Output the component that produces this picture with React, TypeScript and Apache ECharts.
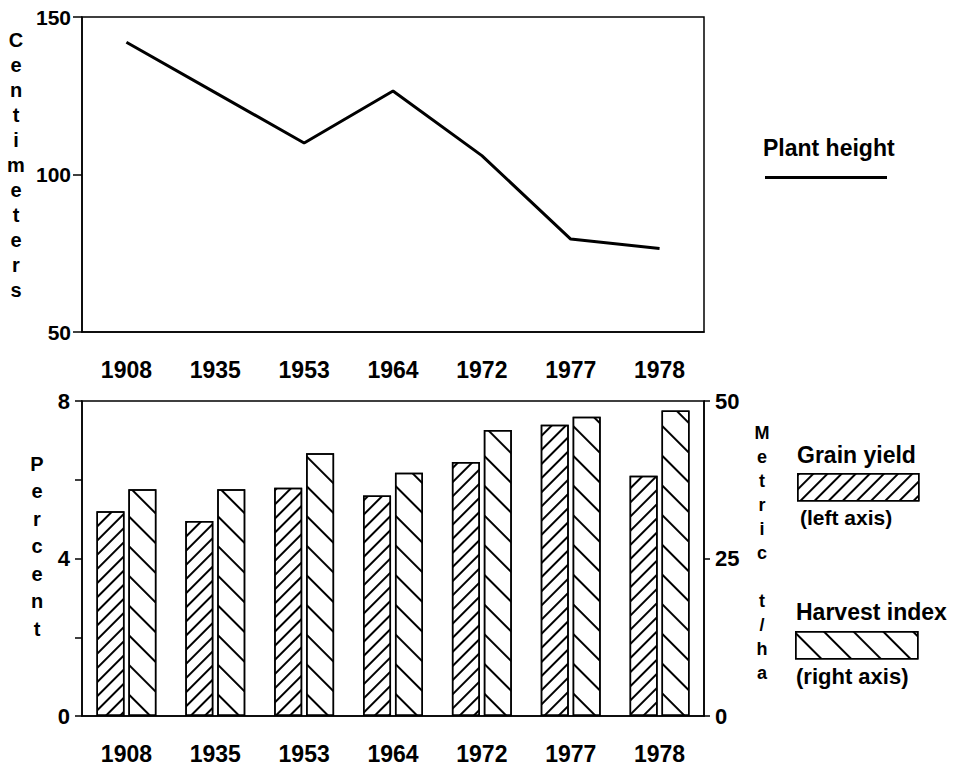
import React, { useEffect, useRef } from "react";
import * as echarts from "echarts";

const years = ["1908", "1935", "1953", "1964", "1972", "1977", "1978"];
const plantHeight = [142, 126, 110, 126.5, 106, 79.5, 76.5];
const grainYield = [5.2, 4.95, 5.8, 5.6, 6.45, 7.4, 6.1];
const harvestIndex = [36, 36, 41.7, 38.6, 45.4, 47.5, 48.5];

const heightAxis = { min: 50, max: 150, interval: 50 };
const percentAxis = { min: 0, max: 8, interval: 2, labelEvery: 4 };
const metricAxis = { min: 0, max: 50, interval: 25 };

const SANS = "'Liberation Sans', Arial, Helvetica, sans-serif";

const gyDecal = {
  symbol: "rect",
  symbolSize: 1,
  color: "#000",
  backgroundColor: "#fff",
  dashArrayX: [1, 0],
  dashArrayY: [1.3, 8],
  rotation: -Math.PI / 4,
};
const hiDecal = {
  symbol: "rect",
  symbolSize: 1,
  color: "#000",
  backgroundColor: "#fff",
  dashArrayX: [1, 0],
  dashArrayY: [1.7, 19],
  rotation: Math.PI / 4,
};

export default function App() {
  const ref = useRef<HTMLDivElement>(null);
  useEffect(() => {
    if (!ref.current) return;
    const chart = echarts.init(ref.current, undefined, { renderer: "svg" });
    const black = "#000";
    const axisLine = { show: true, lineStyle: { color: black, width: 1.5 } };
    const yearLabel = {
      color: black,
      fontFamily: SANS,
      fontWeight: "bold" as const,
      fontSize: 23,
      margin: 26,
    };
    const tickLabel = {
      color: black,
      fontFamily: SANS,
      fontWeight: "bold" as const,
      fontSize: 22,
    };
    const vtext = (s: string) => s.split("").join("\n");
    const option: any = {
      animation: false,
      backgroundColor: "#fff",
      grid: [
        { left: 82, top: 17, width: 622, height: 315, show: true, borderColor: black, borderWidth: 1.5, containLabel: false },
        { left: 82, top: 401, width: 622, height: 315, show: true, borderColor: black, borderWidth: 1.5, containLabel: false },
      ],
      xAxis: [
        {
          type: "category",
          gridIndex: 0,
          data: years,
          boundaryGap: true,
          axisLine,
          axisTick: { show: false },
          axisLabel: yearLabel,
        },
        {
          type: "category",
          gridIndex: 1,
          data: years,
          boundaryGap: true,
          axisLine,
          axisTick: { show: false },
          axisLabel: yearLabel,
        },
      ],
      yAxis: [
        {
          type: "value",
          gridIndex: 0,
          min: heightAxis.min,
          max: heightAxis.max,
          interval: heightAxis.interval,
          axisLine,
          axisTick: { show: true, length: 9, lineStyle: { color: black, width: 1.5 } },
          splitLine: { show: false },
          axisLabel: { ...tickLabel, fontSize: 21, margin: 11 },
        },
        {
          type: "value",
          gridIndex: 1,
          min: percentAxis.min,
          max: percentAxis.max,
          interval: percentAxis.interval,
          axisLine,
          axisTick: { show: true, length: 7, lineStyle: { color: black, width: 1.5 } },
          splitLine: { show: false },
          axisLabel: {
            ...tickLabel,
            margin: 12,
            formatter: (v: number) => (v % percentAxis.labelEvery === 0 ? String(v) : ""),
          },
        },
        {
          type: "value",
          gridIndex: 1,
          position: "right",
          min: metricAxis.min,
          max: metricAxis.max,
          interval: metricAxis.interval,
          axisLine,
          axisTick: { show: true, length: 6, lineStyle: { color: black, width: 1.5 } },
          splitLine: { show: false },
          axisLabel: { ...tickLabel, margin: 11 },
        },
      ],
      legend: [
        {
          data: ["Plant height"],
          left: 765,
          top: 176,
          padding: 0,
          icon: "rect",
          itemWidth: 122,
          itemHeight: 3,
          formatter: () => "",
          selectedMode: false,
        },
        {
          data: ["Grain yield"],
          left: 797,
          top: 473,
          padding: 0,
          icon: "rect",
          itemWidth: 121,
          itemHeight: 27,
          formatter: () => "",
          selectedMode: false,
          itemStyle: { borderColor: black, borderWidth: 1.5 },
        },
        {
          data: ["Harvest index"],
          left: 795,
          top: 631,
          padding: 0,
          icon: "rect",
          itemWidth: 122,
          itemHeight: 27,
          formatter: () => "",
          selectedMode: false,
          itemStyle: { borderColor: black, borderWidth: 1.5 },
        },
      ],
      series: [
        {
          name: "Plant height",
          type: "line",
          xAxisIndex: 0,
          yAxisIndex: 0,
          data: plantHeight,
          showSymbol: false,
          symbol: "none",
          lineStyle: { color: black, width: 3 },
          itemStyle: { color: black },
        },
        {
          name: "Grain yield",
          type: "bar",
          xAxisIndex: 1,
          yAxisIndex: 1,
          data: grainYield,
          barWidth: 28,
          barGap: "14%",
          itemStyle: { color: "#fff", borderColor: black, borderWidth: 1.5, decal: gyDecal },
        },
        {
          name: "Harvest index",
          type: "bar",
          xAxisIndex: 1,
          yAxisIndex: 2,
          data: harvestIndex,
          barWidth: 28,
          barGap: "14%",
          itemStyle: { color: "#fff", borderColor: black, borderWidth: 1.5, decal: hiDecal },
        },
      ],
      graphic: [
        {
          type: "text",
          x: 16,
          y: 27,
          style: { text: vtext("Centimeters"), font: `bold 20px ${SANS}`, fill: black, align: "center", verticalAlign: "top", lineHeight: 25 },
        },
        {
          type: "text",
          x: 37,
          y: 450,
          style: { text: vtext("Percent"), font: `bold 20px ${SANS}`, fill: black, align: "center", verticalAlign: "top", lineHeight: 27.5 },
        },
        {
          type: "text",
          x: 762,
          y: 421,
          style: { text: "M\ne\nt\nr\ni\nc\n\nt\n/\nh\na", font: `bold 18px ${SANS}`, fill: black, align: "center", verticalAlign: "top", lineHeight: 24 },
        },
        {
          type: "text",
          x: 763,
          y: 148,
          style: { text: "Plant height", font: `bold 23px ${SANS}`, fill: black, align: "left", verticalAlign: "middle" },
        },
        {
          type: "text",
          x: 797,
          y: 455,
          style: { text: "Grain yield", font: `bold 23px ${SANS}`, fill: black, align: "left", verticalAlign: "middle" },
        },
        {
          type: "text",
          x: 800,
          y: 517,
          style: { text: "(left axis)", font: `bold 21px ${SANS}`, fill: black, align: "left", verticalAlign: "middle" },
        },
        {
          type: "text",
          x: 796,
          y: 612,
          style: { text: "Harvest index", font: `bold 23px ${SANS}`, fill: black, align: "left", verticalAlign: "middle" },
        },
        {
          type: "text",
          x: 796,
          y: 676,
          style: { text: "(right axis)", font: `bold 22px ${SANS}`, fill: black, align: "left", verticalAlign: "middle" },
        },
      ],
    };
    chart.setOption(option);
    return () => chart.dispose();
  }, []);
  return (
    <div
      ref={ref}
      style={{ position: "absolute", left: 0, top: 0, width: 959, height: 768, background: "#fff" }}
    />
  );
}
